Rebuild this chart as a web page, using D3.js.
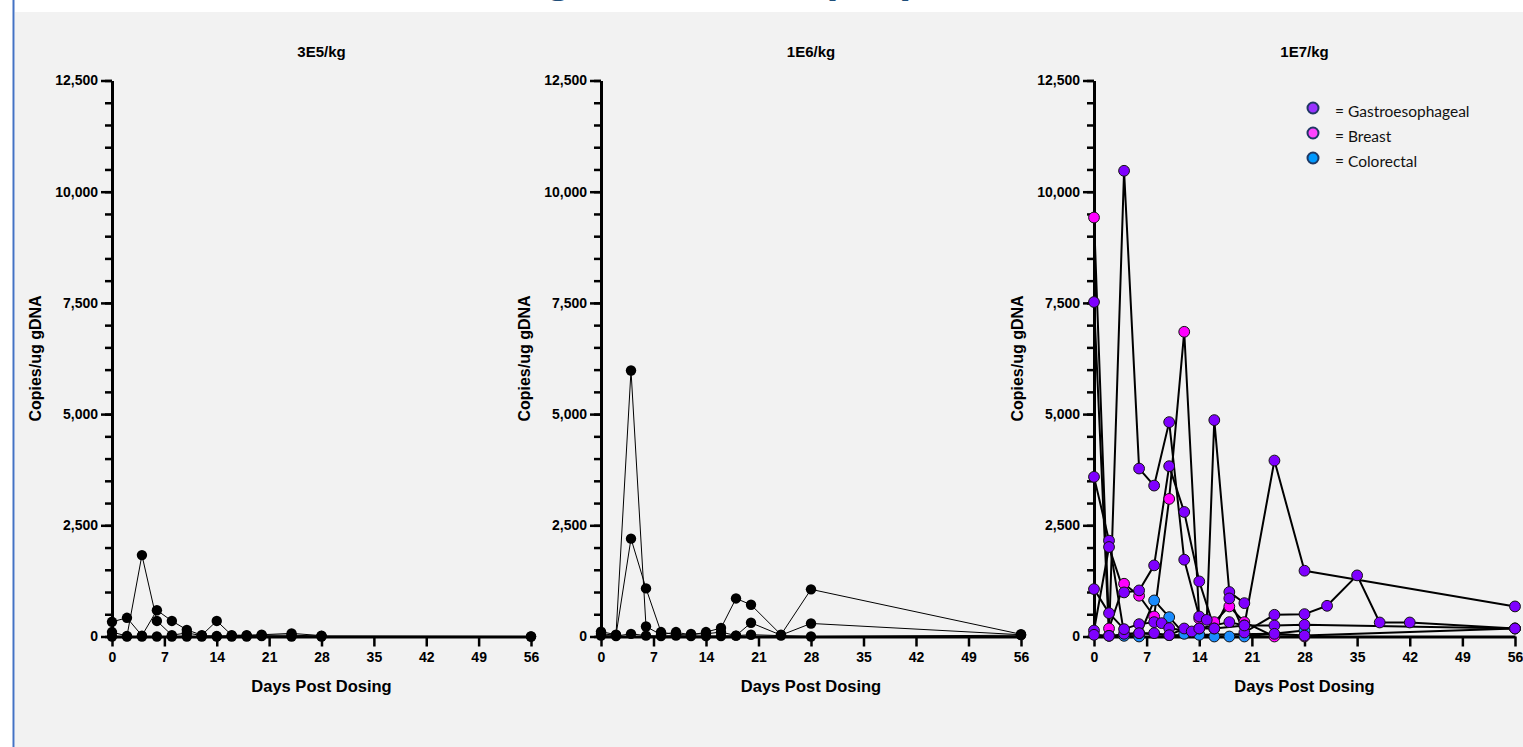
<!DOCTYPE html>
<html>
<head>
<meta charset="utf-8" />
<title>copies / ug gDNA by dose</title>
<script src="https://cdn.jsdelivr.net/npm/d3@7"></script>
<style>
html, body {
	margin:0;
	padding:0;
	background:#ffffff;
}
svg {
	display:block;
	font-family: 'Liberation Sans', Arial, sans-serif;
}
</style>
</head>
<body>
<script>

//=======================================
// data
//=======================================

let panelTitles = ['3E5/kg', '1E6/kg', '1E7/kg'];

let dayTicks    = [0, 7, 14, 21, 28, 35, 42, 49, 56];
let yMajorTicks = [0, 2500, 5000, 7500, 10000, 12500];
let yMinorTicks = d3.range(0, 12501, 500);

// 3E5/kg : [day, copies]
let lowDose = [
	[[0,330],[2,420],[4,20],[6,590],[8,350],[10,150],[12,30],[14,350],[16,30],[18,30],[20,40],[24,70],[28,20]],
	[[0,100],[2,10],[4,1830],[6,350],[8,30],[10,80],[12,20],[14,10],[16,20],[18,20],[20,30],[24,30],[28,10],[56,0]],
	[[0,0],[2,0],[4,0],[6,0],[8,0],[10,0],[12,0],[14,0],[16,0],[18,0],[20,10],[24,0],[28,0],[56,0]]
];

// 1E6/kg
let midDose = [
	[[0,110],[2,40],[4,5980],[6,225],[8,40],[10,100],[12,30],[14,100],[16,190],[18,856],[20,713],[24,40],[28,1060],[56,50]],
	[[0,60],[2,30],[4,2200],[6,1081],[8,100],[10,40],[12,60],[14,60],[16,100],[18,20],[20,308],[24,30],[28,293],[56,40]],
	[[0,20],[2,10],[4,60],[6,20],[8,10],[10,20],[12,10],[14,10],[16,10],[18,20],[20,40],[24,20],[28,0],[56,30]]
];

// 1E7/kg, by tumour type
let gastroSeries = [
	[[0,7520],[2,15],[4,10470],[6,3776],[8,3393],[10,4820],[12,1727],[14,450],[15,375],[16,4865],[18,1000],[20,750]],
	[[0,3589],[2,2155],[4,60],[6,75],[8,75],[10,30],[12,180],[14,180],[18,323],[20,248],[24,3956],[28,1479],[56,676]],
	[[0,1066],[2,525],[4,165],[6,278],[8,323],[9,300],[10,188],[13,113],[14,180],[16,180],[18,856],[20,90],[24,488],[28,503],[31,690],[35,1374],[38,315],[42,315],[56,180]],
	[[0,135],[2,2012],[4,991],[6,1036],[8,1599],[10,3829],[12,2800],[14,1239],[16,180],[20,248],[24,248],[28,263],[56,180]],
	[[0,38],[2,15],[6,75],[10,30],[24,60],[28,20],[56,180]]
];
let breastSeries = [
	[[0,9420],[2,180],[4,1186],[6,916],[8,450],[10,3093],[12,6850],[14,400],[16,323],[18,676],[20,323],[24,0],[28,0]]
];
let colorectalSeries = [
	[[4,15],[6,0],[8,811],[10,435],[12,60],[14,38],[16,0],[18,0],[20,0],[28,135]]
];

let legendLabels = ['= Gastroesophageal', '= Breast', '= Colorectal'];


//=======================================
// layout
//=======================================

let W = 1523, H = 747,
		yTop = 80.5, yBottom = 636.5,
		panels = [
			{x0:112,  x1:531},
			{x0:601,  x1:1021},
			{x0:1094, x1:1515}
		],
		colors = {
			gastro     : '#7f00ff',
			breast     : '#ff00ff',
			colorectal : '#1a8cff'
		},
		legendColors = ['#9933ff', '#ff44ff', '#0099ff'];

let svg = d3.select('body').append('svg')
	.attr('width', W)
	.attr('height', H);

// slide title, almost entirely hidden behind the chart:
// only the descenders peek out above the grey area
let title = svg.append('text')
	.attr('x', 0)
	.attr('y', -8)
	.attr('font-size', 44)
	.attr('font-weight', 'bold')
	.attr('fill', '#1f4e79')
	.text('Tumor Biodistribution Following IV Infusion (GC)');

let gIdx = title.text().indexOf('g ');
let gx = title.node().getStartPositionOfChar(gIdx).x;
title.attr('x', 545 - gx);

svg.append('rect')
	.attr('x', 15).attr('y', 12)
	.attr('width', W - 15).attr('height', H - 12)
	.attr('fill', '#f2f2f2');

svg.append('line')
	.attr('x1', 13.5).attr('x2', 13.5)
	.attr('y1', 0).attr('y2', H)
	.attr('stroke', '#4472c4')
	.attr('stroke-width', 2);


//=======================================
// panels
//=======================================

panels.forEach((p, i)=>{

	let x = d3.scaleLinear().domain([0, 56]).range([p.x0, p.x1]),
			y = d3.scaleLinear().domain([0, 12500]).range([yBottom, yTop]),
			line = d3.line().x(d=>x(d[0])).y(d=>y(d[1]));

	let g = svg.append('g').attr('class', 'panel-' + i);

	// title
	g.append('text')
		.attr('x', (p.x0 + p.x1) / 2)
		.attr('y', 57)
		.attr('text-anchor', 'middle')
		.attr('font-size', 15)
		.attr('font-weight', 'bold')
		.text(panelTitles[i]);

	// y axis label
	g.append('text')
		.attr('transform', 'translate(' + [p.x0 - 77, (yTop + yBottom) / 2] + ') rotate(-90)')
		.attr('text-anchor', 'middle')
		.attr('dy', '0.35em')
		.attr('font-size', 16)
		.attr('font-weight', 'bold')
		.text('Copies/ug gDNA');

	// x axis label
	g.append('text')
		.attr('x', (p.x0 + p.x1) / 2)
		.attr('y', 692)
		.attr('text-anchor', 'middle')
		.attr('font-size', 16.5)
		.attr('font-weight', 'bold')
		.text('Days Post Dosing');

	// axes
	let axes = g.append('g').attr('class', 'axes');

	axes.append('g')
		.attr('transform', 'translate(' + [p.x0, 0] + ')')
		.call(d3.axisLeft(y).tickValues(yMinorTicks).tickSize(7).tickSizeOuter(0).tickFormat(''))
		.call(sel=>sel.select('.domain').remove());

	axes.append('g')
		.attr('transform', 'translate(' + [p.x0, 0] + ')')
		.call(d3.axisLeft(y).tickValues(yMajorTicks).tickSize(11).tickSizeOuter(0).tickPadding(3).tickFormat(d3.format(',')));

	axes.append('g')
		.attr('transform', 'translate(' + [0, yBottom] + ')')
		.call(d3.axisBottom(x).tickValues(dayTicks).tickSize(10).tickSizeOuter(0).tickPadding(6));

	axes.selectAll('.domain').attr('stroke', '#000').attr('stroke-width', 3);
	axes.selectAll('.tick line').attr('stroke', '#000').attr('stroke-width', 2.5);
	axes.selectAll('.tick text')
		.attr('fill', '#000')
		.attr('font-size', 14)
		.attr('font-weight', 'bold')
		.attr('font-family', "'Liberation Sans', Arial, sans-serif");

	// data
	if (i < 2) {

		let series = i == 0 ? lowDose : midDose;

		g.append('g').attr('class', 'lines')
			.selectAll('path').data(series)
			.enter().append('path')
				.attr('d', line)
				.attr('fill', 'none')
				.attr('stroke', '#000')
				.attr('stroke-width', 1);

		g.append('g').attr('class', 'dots')
			.selectAll('circle').data(series.flat())
			.enter().append('circle')
				.attr('cx', d=>x(d[0]))
				.attr('cy', d=>y(d[1]))
				.attr('r', 5.2)
				.attr('fill', '#000');

	} else {

		let groups = [
			{key:'colorectal', data:colorectalSeries},
			{key:'breast',     data:breastSeries},
			{key:'gastro',     data:gastroSeries}
		];

		g.append('g').attr('class', 'lines')
			.selectAll('path').data(groups.flatMap(k=>k.data))
			.enter().append('path')
				.attr('d', line)
				.attr('fill', 'none')
				.attr('stroke', '#000')
				.attr('stroke-width', 2)
				.attr('stroke-linejoin', 'round');

		groups.forEach(k=>{
			g.append('g').attr('class', 'dots ' + k.key)
				.selectAll('circle').data(k.data.flat())
				.enter().append('circle')
					.attr('cx', d=>x(d[0]))
					.attr('cy', d=>y(d[1]))
					.attr('r', 5.4)
					.attr('fill', colors[k.key])
					.attr('stroke', '#111')
					.attr('stroke-width', 1);
		});

		// legend
		g.append('g').attr('class', 'legend')
			.selectAll('g').data(legendLabels)
			.enter().append('g')
				.attr('transform', (d, j)=>'translate(' + [1313, 108 + j * 25] + ')')
				.call(sel=>{
					sel.append('circle')
						.attr('r', 5.5)
						.attr('fill', (d, j)=>legendColors[j])
						.attr('stroke', '#1f3864')
						.attr('stroke-width', 2);
					sel.append('text')
						.attr('x', 22)
						.attr('y', 4)
						.attr('dy', '0.35em')
						.attr('font-family', 'Lato, sans-serif')
						.attr('font-size', 15.5)
						.attr('fill', '#111')
						.text(d=>d);
				});
	}

});

</script>
</body>
</html>
